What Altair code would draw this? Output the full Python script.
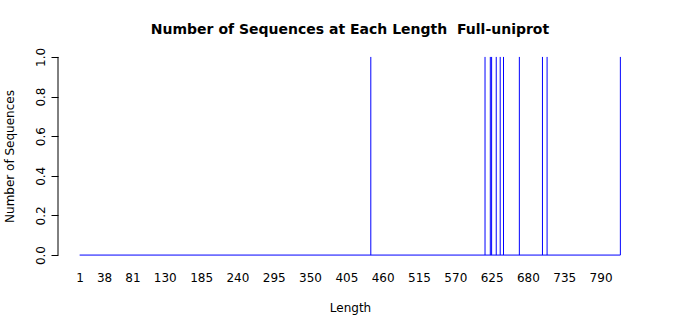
import altair as alt
import pandas as pd

# Data
lengths = [442, 615, 623, 625, 632, 638, 643, 667, 702, 709, 820]
counts = [1, 1, 1, 1, 1, 1, 1, 1, 1, 1, 1]
len_min, len_max = 1, 820
x_tick_values = [1, 38, 81, 130, 185, 240, 295, 350, 405, 460, 515, 570, 625, 680, 735, 790]
y_tick_values = [0.0, 0.2, 0.4, 0.6, 0.8, 1.0]

FONT = "DejaVu Sans"
BLUE = "#0000ff"

pad = 0.04 * (len_max - len_min)
x_scale = alt.Scale(domain=[len_min - pad, len_max + pad], nice=False, zero=False)
y_scale = alt.Scale(domain=[-0.04, 1.04], nice=False, zero=False)

df = pd.DataFrame({"length": lengths, "count": counts})
base_df = pd.DataFrame({"x1": [len_min], "x2": [len_max], "y": [0]})

x_axis = alt.Axis(
    values=x_tick_values, domain=False, ticks=False, grid=False,
    labelFont=FONT, labelFontSize=12, labelColor="black", labelPadding=9,
    labelOverlap=False, labelFlush=False,
    title="Length", titleFont=FONT, titleFontSize=12, titleFontWeight="normal",
    titleColor="black", titlePadding=19,
)
y_axis = alt.Axis(
    values=y_tick_values, format=".1f", domain=False, grid=False,
    ticks=True, tickSize=7, tickColor="black",
    labelAngle=-90, labelAlign="center", labelBaseline="bottom",
    labelFont=FONT, labelFontSize=12, labelColor="black", labelPadding=4,
    labelOverlap=False,
    title="Number of Sequences", titleFont=FONT, titleFontSize=12,
    titleFontWeight="normal", titleColor="black", titlePadding=18,
)

bars = alt.Chart(df).mark_rule(color=BLUE, strokeWidth=1).encode(
    x=alt.X("length:Q", scale=x_scale, axis=x_axis),
    y=alt.Y("count:Q", scale=y_scale, axis=y_axis),
    y2=alt.datum(0),
)

baseline = alt.Chart(base_df).mark_rule(color=BLUE, strokeWidth=1).encode(
    x=alt.X("x1:Q", scale=x_scale, axis=x_axis),
    x2="x2:Q",
    y=alt.Y("y:Q", scale=y_scale, axis=y_axis),
)

yline = alt.Chart(base_df).mark_rule(color="black", strokeWidth=1).encode(
    x=alt.value(0),
    y=alt.datum(0),
    y2=alt.datum(1),
)

chart = alt.layer(bars, baseline, yline).properties(
    width=584,
    height=214,
    background="white",
    padding={"left": 58, "top": 49, "right": 58, "bottom": 52},
    autosize=alt.AutoSizeParams(type="none"),
    title=alt.TitleParams(
        "Number of Sequences at Each Length\u00a0 Full-uniprot",
        font=FONT, fontSize=14, fontWeight="bold", color="black",
        anchor="middle", offset=10,
    ),
).configure_view(stroke=None).configure_axis(labelOverlap=False)

chart.save("out.html", embed_options={"renderer": "svg", "actions": False})
